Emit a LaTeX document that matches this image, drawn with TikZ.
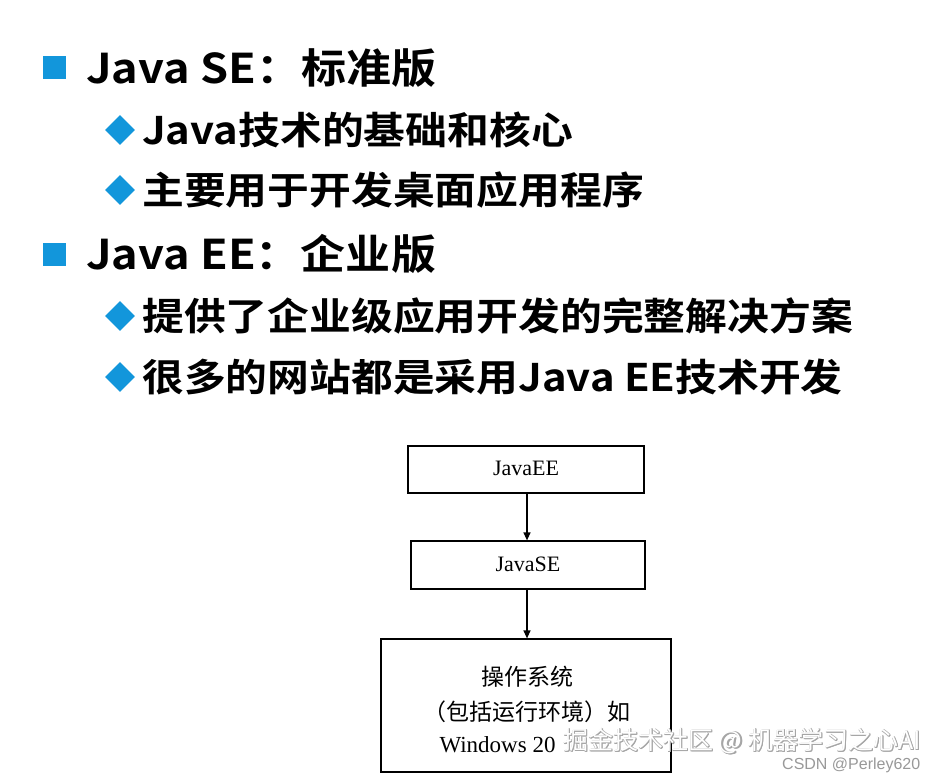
\documentclass[tikz,border=0pt]{standalone}
\usepackage{fontspec}
\setmainfont{Liberation Serif}
\newfontfamily\cjkb[BoldFont=* Bold]{Noto Sans CJK SC}
\newfontfamily\cjk{Noto Sans CJK SC}
\newfontfamily\lsans{Liberation Sans}
\usetikzlibrary{shapes.geometric,arrows.meta}
\definecolor{bl}{HTML}{1296DB}
\newcommand{\wide}[1]{\scalebox{1.1}[1]{#1}}
\begin{document}
\begin{tikzpicture}[x=1pt,y=-1pt,
  lvla/.style={anchor=west,inner sep=0pt,font=\cjkb\bfseries\fontsize{41}{42}\selectfont},
  lvlb/.style={anchor=west,inner sep=0pt,font=\cjkb\bfseries\fontsize{38}{40}\selectfont},
  sq/.style={fill=bl,minimum size=23pt,inner sep=0pt},
  dm/.style={fill=bl,diamond,minimum size=30pt,inner sep=0pt},
  box/.style={draw,line width=1.2pt,inner sep=0pt},
  arr/.style={-{Triangle[length=8pt,width=7pt]},line width=1.2pt},
  wm/.style={anchor=west,inner sep=0pt,text=white,font=\cjk\fontsize{25}{27}\selectfont}]
\useasboundingbox (0,0) rectangle (944,778);
\fill[white] (0,0) rectangle (944,778);
\node[sq] (s1) at (54,68) {};
\node[lvla] (t1) at (86,68) {\wide{Java SE：标准版}};
\node[dm] (d1) at (120,130) {};
\node[lvlb] (t2) at (142,130) {\wide{Java技术的基础和核心}};
\node[dm] (d2) at (120,190) {};
\node[lvlb] (t3) at (142,190) {\wide{主要用于开发桌面应用程序}};
\node[sq] (s2) at (54,254) {};
\node[lvla] (t4) at (86,254) {\wide{Java EE：企业版}};
\node[dm] (d3) at (120,316) {};
\node[lvlb] (t5) at (142,316) {\wide{提供了企业级应用开发的完整解决方案}};
\node[dm] (d4) at (120,377) {};
\node[lvlb] (t6) at (142,377) {\wide{很多的网站都是采用Java EE技术开发}};
\node[box,minimum width=236pt,minimum height=47pt] (ee) at (526,469.5) {};
\node[font=\fontsize{22}{24}\selectfont] (eet) at (526,468) {JavaEE};
\node[box,minimum width=234pt,minimum height=48pt] (se) at (528,565) {};
\node[font=\fontsize{22}{24}\selectfont] (set) at (528,564) {JavaSE};
\node[box,minimum width=290pt,minimum height=133pt] (os) at (526,705.5) {};
\node[font=\cjk\fontsize{23}{24}\selectfont] (o1) at (527,677) {操作系统};
\node[font=\cjk\fontsize{23}{24}\selectfont] (o2) at (527,712) {（包括运行环境）如};
\node[font=\fontsize{23}{24}\selectfont,anchor=west] (o3) at (436,745) {Windows 20};
\draw[arr] (ee.south -| 527,0) -- (se.north -| 527,0);
\draw[arr] (se.south -| 527,0) -- (os.north -| 527,0);
\foreach \dx/\dy in {1/1,1.5/1.5,0.5/1.5,1.5/0.5}
  \node[wm,text=gray!70] at (563+\dx,741+\dy) {掘金技术社区 @ 机器学习之心AI};
\node[wm] (w1) at (563,741) {掘金技术社区 @ 机器学习之心AI};
\node[anchor=west,inner sep=0pt,text=gray!80,font=\lsans\fontsize{16}{17}\selectfont] (w2) at (782,765) {CSDN @Perley620};
\end{tikzpicture}
\end{document}
